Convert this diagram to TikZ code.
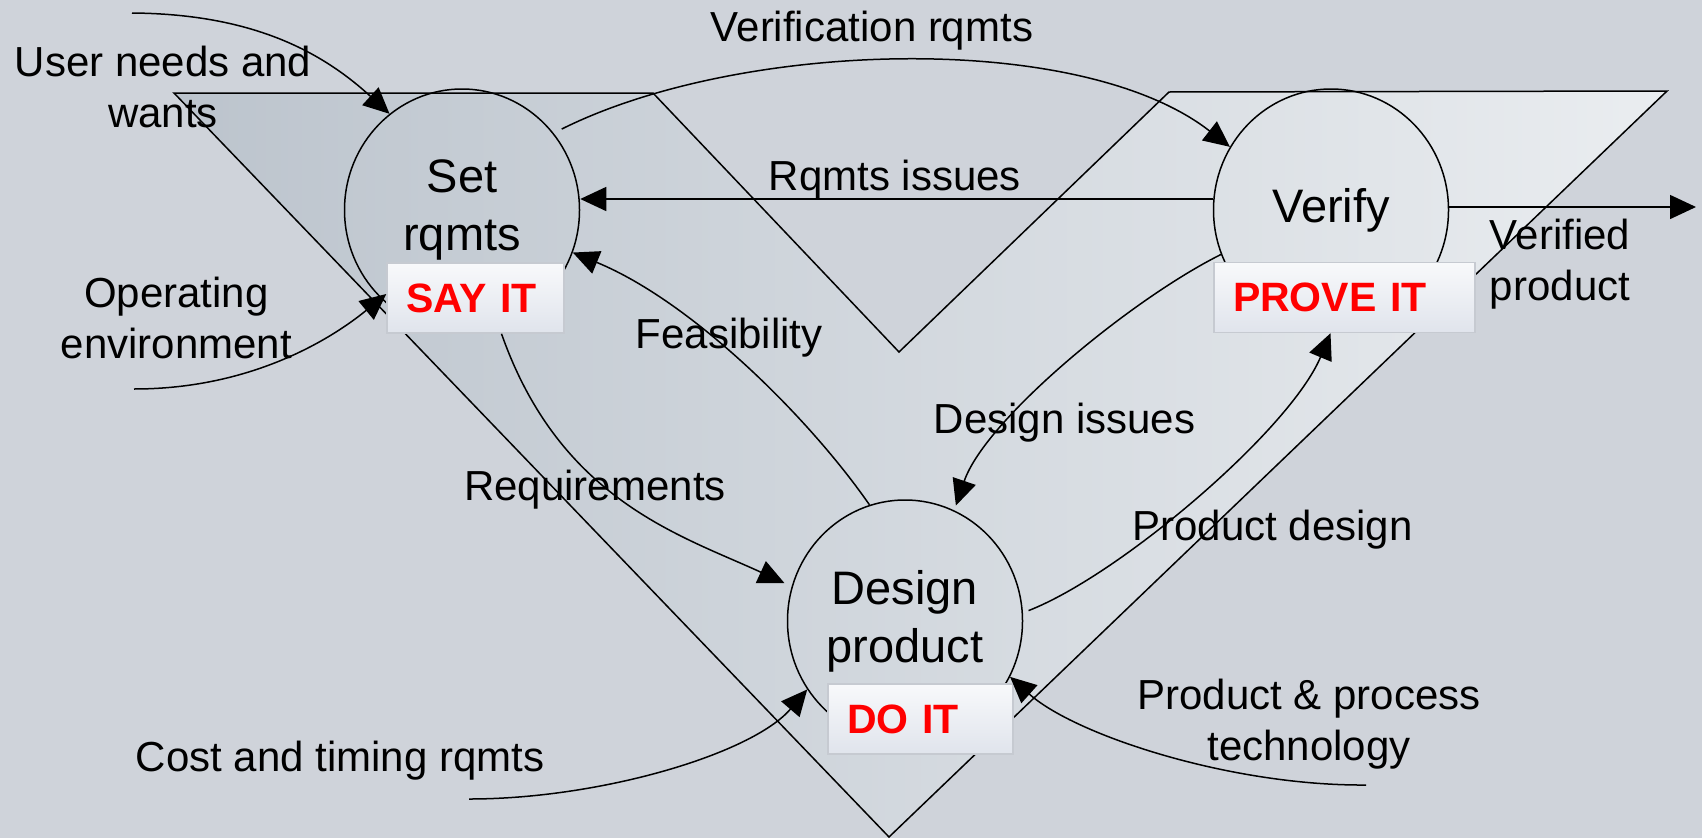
\documentclass[tikz,border=0pt]{standalone}
\usepackage{fontspec}
\setmainfont{Liberation Sans}
\usetikzlibrary{arrows.meta,shapes.geometric,calc}

\definecolor{bgc}{HTML}{CFD3DA}
\definecolor{vdark}{HTML}{BCC4CD}
\definecolor{vmid}{HTML}{C8CED5}
\definecolor{vlight}{HTML}{EAEDF0}
\definecolor{tagtop}{HTML}{F8F9FB}
\definecolor{tagbot}{HTML}{E0E4EC}
\definecolor{tagline}{HTML}{C6CAD1}
\definecolor{tagred}{HTML}{FF0000}

\begin{document}
\begin{tikzpicture}[x=1pt,y=-1pt,
  lbl/.style={font=\fontsize{42}{50.5}\selectfont, inner sep=0pt, align=center},
  proc/.style={draw, ellipse, line width=1.5pt, minimum width=235pt,
    minimum height=242pt, inner sep=0pt, align=center,
    font=\fontsize{47}{58}\selectfont},
  tag/.style={draw=tagline, line width=1.5pt, top color=tagtop, bottom color=tagbot,
    inner xsep=19pt, inner ysep=0pt, minimum height=70pt, align=left,
    text=tagred, font=\fontsize{41}{49}\selectfont\bfseries},
  flow/.style={line width=1.5pt, -{Triangle[length=26pt,width=24pt]}},
  vshape/.style={draw, line width=1.5pt, left color=vdark, middle color=vmid, right color=vlight}
]
\useasboundingbox (0,0) rectangle (1702,838);
\fill[bgc] (0,0) rectangle (1702,838);

% V-shaped band behind the three stages
\path[vshape] (174,93) -- (653,93) -- (899,352) -- (1169,92) -- (1667,91) -- (889,837) -- cycle;

% stages
\node[proc] (setr) at (462,210) {Set\\rqmts};
\node[proc] (verify) at (1331,210) {Verify};
\node[proc] (design) at (905,621) {Design\\product};

% stage tags
\node[tag, text width=139pt] (sayit) at (475.5,298) {SAY IT};
\node[tag, text width=223pt] (prove) at (1344.5,297.5) {PROVE IT};
\node[tag, text width=147pt] (doit) at (920.5,719) {DO IT};

% free ends of the external flows
\coordinate (u0) at (132,13);
\coordinate (o0) at (134,389);
\coordinate (c0) at (469,799);
\coordinate (t0) at (1366,785);
\coordinate (vend) at (1696,207);

% flows
\draw[flow] (u0) .. controls (250,14) and (320,50) .. (setr.127);
\draw[flow] (o0) .. controls (250,389) and (330,340) .. ([yshift=4pt]sayit.west);
\draw[flow] (c0) .. controls (600,799) and (752,754) .. (design.215);
\draw[flow] (t0) .. controls (1230,786) and (1075,735) .. (design.332);
\draw[flow] ($(verify.west)+(0,-11)$) -- ($(setr.east)+(0,-11)$);
\draw[flow, shorten <=9pt] (setr.40) .. controls (740,40) and (1080,30) .. (verify.148);
\draw[flow] (design.107) .. controls (810,419) and (693,302) .. (setr.-21);
\draw[flow, shorten >=8pt] ([xshift=26pt]sayit.south) .. controls (560,500) and (680,535) .. (design.163);
\draw[flow, shorten >=5pt] (verify.202) .. controls (1130,300) and (985,420) .. (design.66);
\draw[flow, shorten <=6pt] (design.4) .. controls (1120,575) and (1290,430) .. ([xshift=-14pt]prove.south);
\draw[flow] ($(verify.east)+(0,-3)$) -- (vend);

% flow labels
\node[lbl, anchor=north] (luser) at (163,46) {User needs and\\wants};
\node[lbl, anchor=north] (lenv) at (176.5,277) {Operating\\environment};
\node[lbl, anchor=base] (lcost) at (340,771.7) {Cost and timing rqmts};
\node[lbl, anchor=north] (ltech) at (1309,679) {Product \& process\\technology};
\node[lbl, anchor=base] (lverq) at (872,41.7) {Verification rqmts};
\node[lbl, anchor=base] (lrqi) at (895,190) {Rqmts issues};
\node[lbl, anchor=base] (lfeas) at (729,348) {Feasibility};
\node[lbl, anchor=base] (lreq) at (595,500) {Requirements};
\node[lbl, anchor=base] (ldesi) at (1064.6,433) {Design issues};
\node[lbl, anchor=base] (lprod) at (1272.6,540) {Product design};
\node[lbl, anchor=north] (lverp) at (1560,219) {Verified\\product};
\end{tikzpicture}
\end{document}
